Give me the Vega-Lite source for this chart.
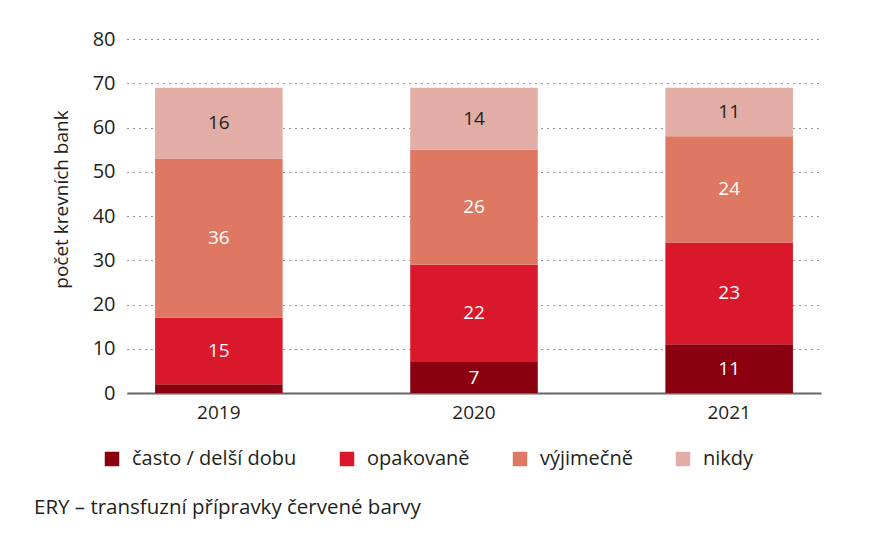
{
  "$schema": "https://vega.github.io/schema/vega-lite/v6.json",
  "width": 694,
  "height": 354,
  "autosize": {"type": "none"},
  "padding": {"left": 127, "top": 39, "right": 74, "bottom": 141},
  "background": "white",
  "config": {
    "font": "Open Sans",
    "view": {"stroke": null},
    "axis": {"labelColor": "#231f20", "titleColor": "#231f20", "labelFontWeight": "normal", "titleFontWeight": "normal"}
  },
  "title": {
    "text": "ERY – transfuzní přípravky červené barvy",
    "orient": "bottom",
    "anchor": "start",
    "frame": "group",
    "dx": -93,
    "offset": 29,
    "fontSize": 20.5,
    "fontWeight": "normal",
    "color": "#231f20"
  },
  "data": {
    "values": [
      {"year": "2019", "cat": "často / delší dobu", "ord": 1, "value": 2},
      {"year": "2019", "cat": "opakovaně", "ord": 2, "value": 15},
      {"year": "2019", "cat": "výjimečně", "ord": 3, "value": 36},
      {"year": "2019", "cat": "nikdy", "ord": 4, "value": 16},
      {"year": "2020", "cat": "často / delší dobu", "ord": 1, "value": 7},
      {"year": "2020", "cat": "opakovaně", "ord": 2, "value": 22},
      {"year": "2020", "cat": "výjimečně", "ord": 3, "value": 26},
      {"year": "2020", "cat": "nikdy", "ord": 4, "value": 14},
      {"year": "2021", "cat": "často / delší dobu", "ord": 1, "value": 11},
      {"year": "2021", "cat": "opakovaně", "ord": 2, "value": 23},
      {"year": "2021", "cat": "výjimečně", "ord": 3, "value": 24},
      {"year": "2021", "cat": "nikdy", "ord": 4, "value": 11}
    ]
  },
  "transform": [
    {"stack": "value", "groupby": ["year"], "sort": [{"field": "ord", "order": "ascending"}], "as": ["y0", "y1"]},
    {"calculate": "(datum.y0 + datum.y1) / 2", "as": "ymid"}
  ],
  "encoding": {
    "x": {
      "field": "year",
      "type": "nominal",
      "scale": {"paddingInner": 0.5, "paddingOuter": 0.11},
      "axis": {
        "title": null,
        "labelAngle": 0,
        "labelFontSize": 19,
        "labelPadding": 10,
        "ticks": false,
        "domainColor": "#666666",
        "domainWidth": 2
      }
    }
  },
  "layer": [
    {
      "mark": {"type": "bar"},
      "encoding": {
        "y": {
          "field": "y0",
          "type": "quantitative",
          "scale": {"domain": [0, 80], "nice": false},
          "axis": {
            "title": "počet krevních bank",
            "titleFontSize": 19,
            "titlePadding": 21,
            "titleY": 160,
            "values": [0, 10, 20, 30, 40, 50, 60, 70, 80],
            "labelFontSize": 20,
            "labelPadding": 12,
            "ticks": false,
            "domain": false,
            "grid": true,
            "gridDash": [1, 5],
            "gridColor": "#333333",
            "gridWidth": 1.2
          }
        },
        "y2": {"field": "y1"},
        "color": {
          "field": "cat",
          "type": "nominal",
          "sort": ["často / delší dobu", "opakovaně", "výjimečně", "nikdy"],
          "scale": {
            "domain": ["často / delší dobu", "opakovaně", "výjimečně", "nikdy"],
            "range": ["#8b0011", "#d9192b", "#de7862", "#e2ada5"]
          },
          "legend": {
            "title": null,
            "orient": "none",
            "direction": "horizontal",
            "legendX": -25,
            "legendY": 410,
            "symbolType": "square",
            "symbolSize": 210,
            "symbolStrokeWidth": 0,
            "symbolOpacity": 1,
            "labelFontSize": 20,
            "labelColor": "#231f20",
            "labelOffset": 10,
            "columnPadding": 40,
            "labelLimit": 300
          }
        }
      }
    },
    {
      "transform": [{"filter": "datum.value >= 5"}],
      "mark": {"type": "text", "fontSize": 19, "baseline": "middle", "align": "center"},
      "encoding": {
        "y": {"field": "ymid", "type": "quantitative"},
        "text": {"field": "value", "type": "quantitative"},
        "color": {
          "condition": {"test": "datum.cat === 'nikdy'", "value": "#231f20"},
          "value": "white"
        }
      }
    }
  ]
}
